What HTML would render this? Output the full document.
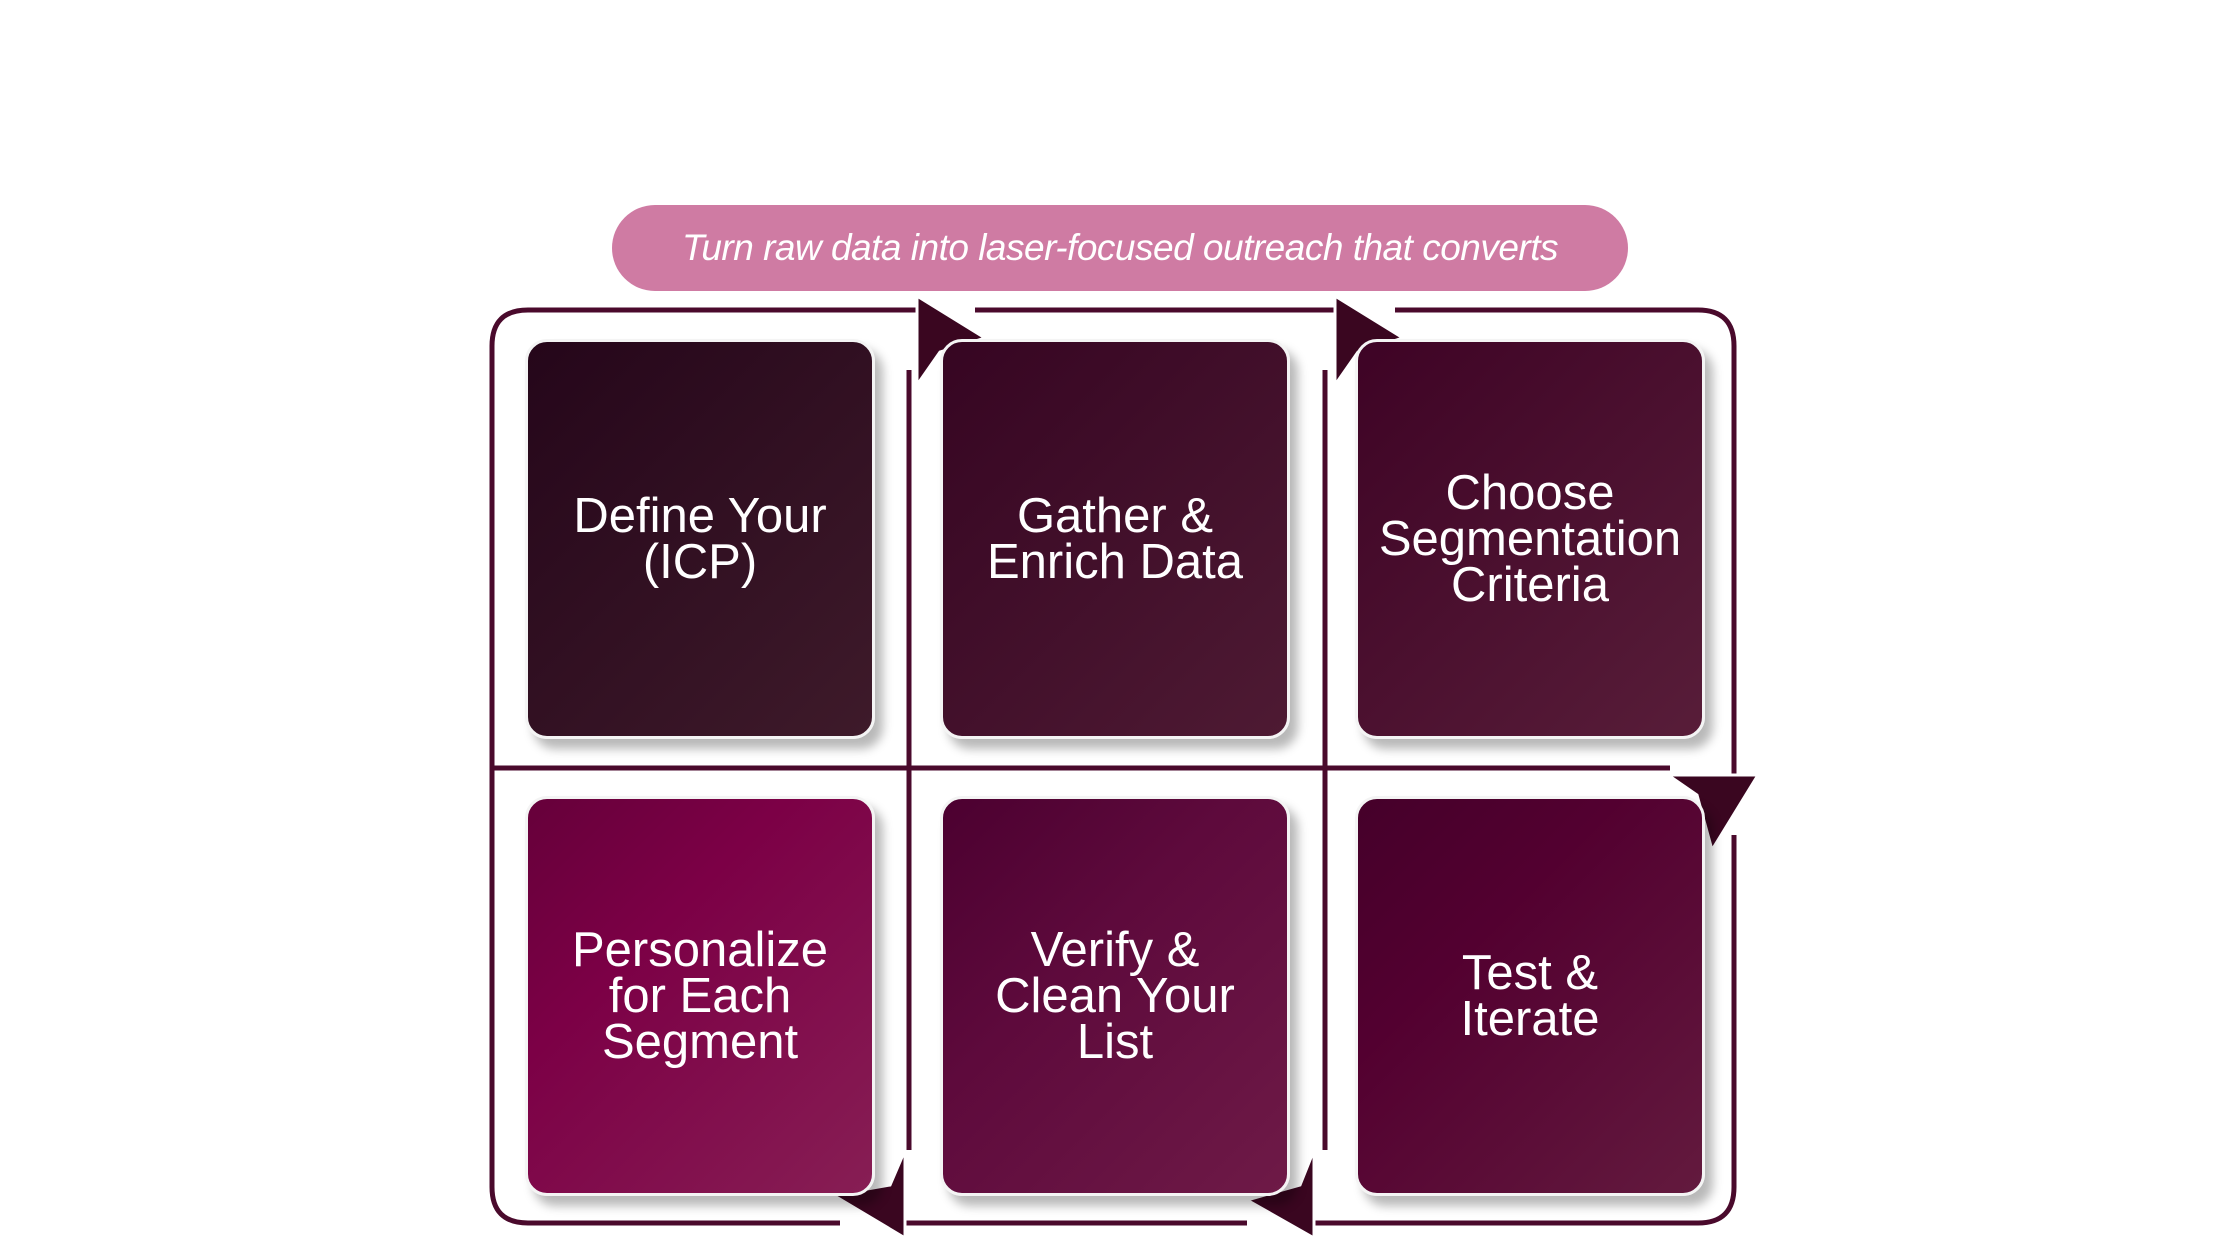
<!DOCTYPE html>
<html><head><meta charset="utf-8"><style>
body{margin:0;width:2240px;height:1260px;background:#fff;position:relative;overflow:hidden;font-family:"Liberation Sans",sans-serif}
.banner{position:absolute;left:612px;top:205px;width:1016px;height:86px;border-radius:43px;background:#cf7ba3;color:#fff;font-style:italic;font-size:37px;display:flex;align-items:center;justify-content:center;letter-spacing:-0.5px}
.card{position:absolute;width:350px;height:400px;border-radius:22px;border:3px solid #f4f4f4;box-shadow:8px 10px 10px rgba(0,0,0,0.28);color:#fff;font-size:49px;line-height:46px;text-align:center;display:flex;align-items:center;justify-content:center;box-sizing:border-box;padding:0 6px}
svg{position:absolute;left:0;top:0}
</style></head><body>
<svg width="2240" height="1260">
<g fill="none" stroke="#4a0a2c" stroke-width="5">
<path d="M917 310 H528 Q492 310 492 346 V1187 Q492 1223 528 1223 H840"/>
<path d="M905 1223 H1247"/>
<path d="M1314 1223 H1698 Q1734 1223 1734 1187 V835"/>
<path d="M1734 775 V346 Q1734 310 1698 310 H1395"/>
<path d="M975 310 H1335"/>
<path d="M492 768 H1670"/>
<path d="M909 370 V1150"/>
<path d="M1325 370 V1150"/>
</g>
<g fill="#3a0620" stroke="#fff" stroke-width="3">
<polygon points="917,296 985,338 940,352 917,385"/>
<polygon points="1335,296 1403,338 1358,352 1335,385"/>
<polygon points="1668,775 1758,775 1712,850 1697,795"/>
<polygon points="905,1150 905,1238 833,1195 890,1185"/>
<polygon points="1314,1150 1314,1238 1247,1200 1300,1185"/>
</g>
</svg>
<div class="banner">Turn raw data into laser-focused outreach that converts</div>
<div class="card" style="left:525px;top:339px;background:linear-gradient(135deg,#25061a,#3e1a2a)">Define Your<br>(ICP)</div>
<div class="card" style="left:940px;top:339px;background:linear-gradient(135deg,#360522,#4e1a33)">Gather &amp;<br>Enrich Data</div>
<div class="card" style="left:1355px;top:339px;background:linear-gradient(135deg,#3e0325,#581d39)">Choose<br>Segmentation<br>Criteria</div>
<div class="card" style="left:525px;top:796px;background:linear-gradient(135deg,#66003a,#7c0046 35%,#871e54)">Personalize<br>for Each<br>Segment</div>
<div class="card" style="left:940px;top:796px;background:linear-gradient(135deg,#4c0030,#5e0a3c 40%,#6e1a47)">Verify &amp;<br>Clean Your<br>List</div>
<div class="card" style="left:1355px;top:796px;background:linear-gradient(135deg,#45002a,#530030 35%,#631a3e)">Test &amp;<br>Iterate</div>
</body></html>
